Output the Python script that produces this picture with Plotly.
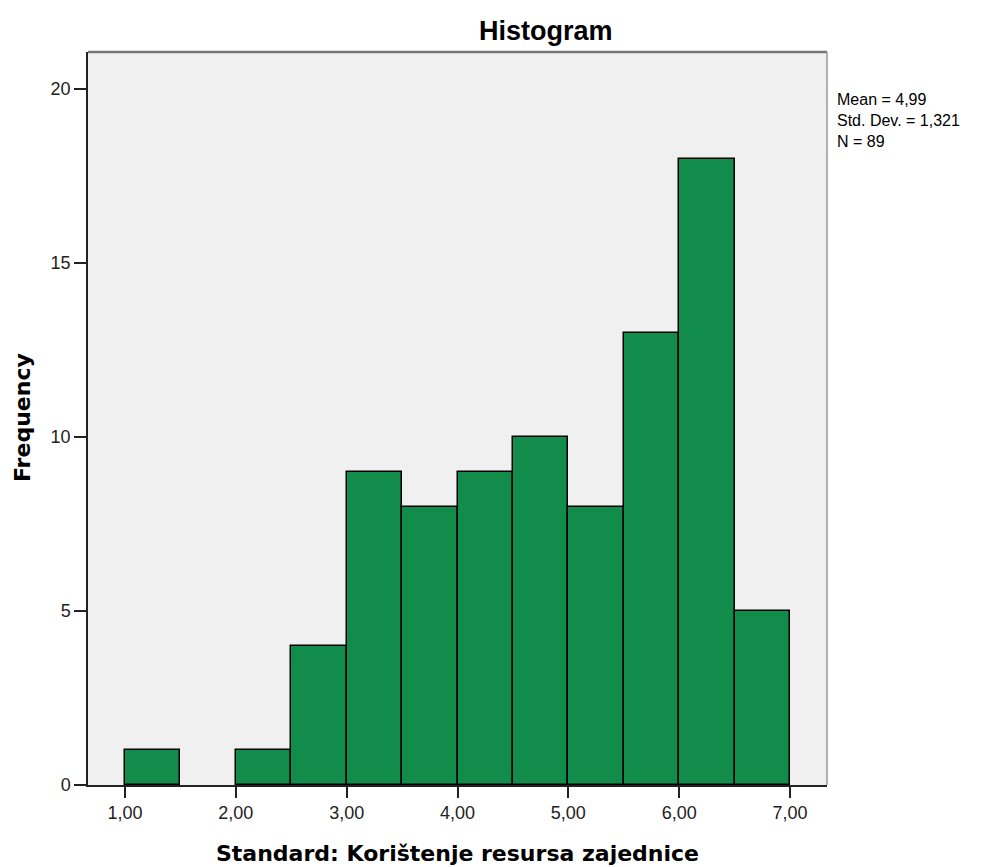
import plotly.graph_objects as go

bin_starts = [1.0, 1.5, 2.0, 2.5, 3.0, 3.5, 4.0, 4.5, 5.0, 5.5, 6.0, 6.5]
counts = [1, 0, 1, 4, 9, 8, 9, 10, 8, 13, 18, 5]
bin_width = 0.5
x_tick_vals = [1, 2, 3, 4, 5, 6, 7]
x_tick_text = ["1,00", "2,00", "3,00", "4,00", "5,00", "6,00", "7,00"]
y_tick_vals = [0, 5, 10, 15, 20]
stats_lines = ["Mean = 4,99", "Std. Dev. = 1,321", "N = 89"]
title_text = "Histogram"
x_title = "Standard: Korištenje resursa zajednice"
y_title = "Frequency"

centers = [s + bin_width / 2 for s in bin_starts]
line_widths = [1.5 if c > 0 else 0 for c in counts]

# screen geometry (page body has an 8px margin)
OFF = 8
PL, PR, PT, PB = 88, 827, 52, 785
W, H = 989 - OFF, 867 - OFF
PW, PH = PR - PL, PB - PT


def px(xs):
    return (xs - PL) / PW


def py(ys):
    return (PB - ys) / PH


fig = go.Figure()
fig.add_trace(go.Bar(
    x=centers, y=counts, width=bin_width,
    marker=dict(color="#118C4A", line=dict(color="#000000", width=line_widths)),
    showlegend=False, hoverinfo="x+y",
))

fig.update_layout(
    width=W, height=H,
    margin=dict(l=PL - OFF, r=W - (PR - OFF), t=PT - OFF, b=H - (PB - OFF)),
    paper_bgcolor="white", plot_bgcolor="#F0F0F0",
    bargap=0,
    font=dict(family="Liberation Sans, Arial", size=18, color="#222222"),
    xaxis=dict(range=[0.6667, 7.3333], tickvals=x_tick_vals, ticktext=x_tick_text,
               showgrid=False, zeroline=False, showline=True, linecolor="#222222", linewidth=1.5,
               ticks="outside", ticklen=11, tickwidth=2, tickcolor="#222222",
               tickfont=dict(size=18, family="Liberation Sans, Arial", color="#222222")),
    yaxis=dict(range=[0, 21.06], tickvals=y_tick_vals,
               showgrid=False, zeroline=False, showline=True, linecolor="#222222", linewidth=1.5,
               ticks="outside", ticklen=12, tickwidth=2, tickcolor="#222222",
               tickfont=dict(size=18, family="Liberation Sans, Arial", color="#222222")),
)

fig.add_shape(type="line", xref="paper", yref="paper", x0=0, x1=1, y0=1, y1=1,
              line=dict(color="#777777", width=2.5))
fig.add_shape(type="line", xref="paper", yref="paper", x0=1, x1=1, y0=0, y1=1,
              line=dict(color="#999999", width=1.5))

fig.add_annotation(text="<b>" + title_text + "</b>", xref="paper", yref="paper",
                   x=px(546), y=py(31), xanchor="center", yanchor="middle", showarrow=False,
                   font=dict(family="Liberation Sans, Arial", size=27, color="#000000"))

fig.add_annotation(text="<b>" + x_title + "</b>", xref="paper", yref="paper",
                   x=px(457), y=py(853), xanchor="center", yanchor="middle", showarrow=False,
                   font=dict(family="DejaVu Sans", size=22, color="#000000"))

fig.add_annotation(text="<b>" + y_title + "</b>", xref="paper", yref="paper",
                   x=px(22), y=py(418), xanchor="center", yanchor="middle", showarrow=False,
                   textangle=-90,
                   font=dict(family="DejaVu Sans", size=22, color="#000000"))

fig.add_annotation(text="<br>".join(stats_lines), xref="paper", yref="paper",
                   x=px(836), y=py(90), xanchor="left", yanchor="top",
                   align="left", showarrow=False, borderpad=0,
                   font=dict(family="Liberation Sans, Arial", size=16, color="#000000"))

fig.write_html("out.html")
